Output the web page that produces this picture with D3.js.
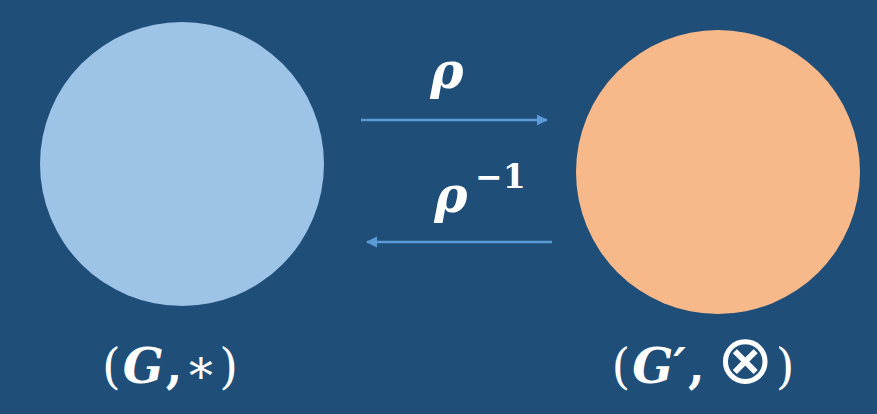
<!DOCTYPE html>
<html>
<head>
<meta charset="utf-8">
<script src="https://cdn.jsdelivr.net/npm/d3@7"></script>
<style>
  html, body { margin: 0; padding: 0; background: #1f4e79; overflow: hidden; }
  svg { display: block; }
</style>
</head>
<body>
<div id="chart"></div>
<script>
// Groups and the maps between them
const groups = ['G', 'G2'];
const groupColors = ['#9dc3e6', '#f8b98a'];
const groupLabels = [
  [{ t: '(', s: 'normal' }, { t: 'G', s: 'italic', w: 'bold' }, { t: ',', s: 'normal', w: 'bold' }, { t: '∗', s: 'normal' }, { t: ')', s: 'normal' }],
  [{ t: '(', s: 'normal' }, { t: 'G′', s: 'italic', w: 'bold' }, { t: ',', s: 'normal', w: 'bold' }, { t: '⊗', s: 'normal', big: true }, { t: ')', s: 'normal' }]
];
const maps = [
  { name: 'ρ', sup: '', from: 'G', to: 'G2' },
  { name: 'ρ', sup: '−1', from: 'G2', to: 'G' }
];

const width = 877, height = 414;

const svg = d3.select('#chart').append('svg')
  .attr('width', width)
  .attr('height', height);

svg.append('rect')
  .attr('width', width).attr('height', height)
  .attr('fill', '#1f4e79');

// Horizontal placement of the two groups
const x = d3.scalePoint().domain(groups).range([182, 718]);
const cy = d3.scaleOrdinal().domain(groups).range([164, 172]);
const r = 142;

// Arrow marker
const defs = svg.append('defs');
defs.append('marker')
  .attr('id', 'head-end')
  .attr('viewBox', '0 0 10 10')
  .attr('refX', 9)
  .attr('refY', 5)
  .attr('markerWidth', 4.5)
  .attr('markerHeight', 4.5)
  .attr('orient', 'auto')
  .append('path')
  .attr('d', 'M0,0 L10,5 L0,10 z')
  .attr('fill', '#5b9bd5');

// Circles
svg.selectAll('circle.group')
  .data(groups)
  .join('circle')
  .attr('class', 'group')
  .attr('cx', d => x(d))
  .attr('cy', d => cy(d))
  .attr('r', r)
  .attr('fill', (d, i) => groupColors[i]);

// Group labels
const labelFont = '"DejaVu Serif", "Liberation Serif", serif';
svg.selectAll('text.glabel')
  .data(groups)
  .join('text')
  .attr('class', 'glabel')
  .attr('x', d => x(d) - 12 + (d === 'G2' ? -3 : 0))
  .attr('y', 383)
  .attr('text-anchor', 'middle')
  .attr('fill', '#ffffff')
  .attr('font-family', labelFont)
  .attr('font-size', 48)
  .each(function (d, i) {
    d3.select(this).selectAll('tspan')
      .data(groupLabels[i])
      .join('tspan')
      .attr('font-style', p => p.s)
      .attr('font-weight', p => p.w || 'normal')
      .attr('font-size', p => p.big ? 68 : null)
      .attr('font-family', p => p.t === '⊗' ? '"DejaVu Sans", sans-serif' : null)
      .attr('dx', (p, j) => j === 0 ? 0 : (p.t === '⊗' ? 12 : 2))
      .text(p => p.t);
  });

// Arrows
const arrowY = [120, 242];
const arrowX = d3.scaleOrdinal().domain(groups).range([361, 550]);
maps.forEach((m, i) => {
  const x1 = m.from === 'G' ? arrowX('G') : arrowX('G2') + 2;
  const x2 = m.to === 'G2' ? arrowX('G2') - 3 : arrowX('G') + 6;
  svg.append('line')
    .attr('x1', x1).attr('y1', arrowY[i])
    .attr('x2', x2).attr('y2', arrowY[i])
    .attr('stroke', '#5b9bd5')
    .attr('stroke-width', 2.5)
    .attr('marker-end', 'url(#head-end)');

  svg.append('text')
    .attr('x', i === 0 ? 447 : 451)
    .attr('y', i === 0 ? 88 : 212)
    .attr('text-anchor', 'middle')
    .attr('fill', '#ffffff')
    .attr('font-family', labelFont)
    .attr('font-size', 50)
    .attr('font-style', 'italic')
    .attr('font-weight', 'bold')
    .text(m.name);
  if (m.sup) {
    svg.append('text')
      .attr('x', 475)
      .attr('y', 188)
      .attr('fill', '#ffffff')
      .attr('font-family', labelFont)
      .attr('font-size', 33)
      .attr('font-weight', 'bold')
      .text(m.sup);
  }
});
</script>
</body>
</html>
